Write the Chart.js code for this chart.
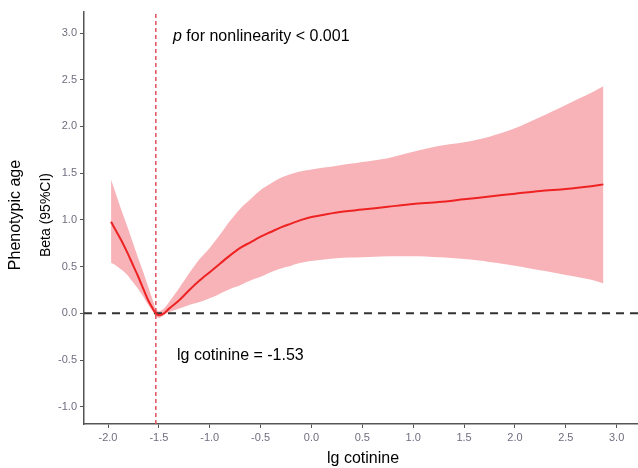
<!DOCTYPE html>
<html>
<head>
<meta charset="utf-8">
<script src="https://cdn.jsdelivr.net/npm/chart.js@4/dist/chart.umd.min.js"></script>
<style>
  html, body { margin: 0; padding: 0; background: #fff; }
  #wrap { width: 638px; height: 468px; }
</style>
</head>
<body>
<div id="wrap"><canvas id="chart" width="638" height="468"></canvas></div>
<script>
// datos
const cotinine = [-1.97, -1.92, -1.86, -1.81, -1.76, -1.71, -1.66, -1.61, -1.56, -1.53, -1.50, -1.45, -1.40, -1.30, -1.20, -1.10, -1.00, -0.90, -0.80, -0.70, -0.60, -0.50, -0.40, -0.30, -0.20, -0.10, 0.00, 0.25, 0.50, 0.75, 1.00, 1.25, 1.50, 1.75, 2.00, 2.25, 2.50, 2.75, 2.87];
const beta = [0.98, 0.88, 0.76, 0.65, 0.53, 0.41, 0.28, 0.15, 0.05, 0.00, -0.02, 0.00, 0.05, 0.14, 0.25, 0.35, 0.44, 0.53, 0.62, 0.70, 0.76, 0.82, 0.87, 0.92, 0.96, 1.00, 1.03, 1.08, 1.11, 1.14, 1.17, 1.19, 1.22, 1.25, 1.28, 1.31, 1.33, 1.36, 1.38];
const ciUpper = [1.43, 1.27, 1.08, 0.93, 0.77, 0.61, 0.46, 0.30, 0.14, 0.05, 0.02, 0.05, 0.12, 0.27, 0.43, 0.58, 0.70, 0.84, 0.99, 1.12, 1.22, 1.32, 1.39, 1.45, 1.49, 1.52, 1.54, 1.58, 1.62, 1.66, 1.73, 1.79, 1.83, 1.89, 1.98, 2.10, 2.23, 2.36, 2.43];
const ciLower = [0.54, 0.51, 0.46, 0.41, 0.34, 0.27, 0.19, 0.10, 0.02, -0.03, -0.05, -0.02, 0.01, 0.05, 0.09, 0.12, 0.16, 0.21, 0.26, 0.30, 0.35, 0.39, 0.44, 0.48, 0.51, 0.54, 0.56, 0.59, 0.60, 0.61, 0.61, 0.60, 0.58, 0.55, 0.51, 0.46, 0.41, 0.36, 0.32];

const xTicks = [-2.0, -1.5, -1.0, -0.5, 0.0, 0.5, 1.0, 1.5, 2.0, 2.5, 3.0];
const yTicks = [-1.0, -0.5, 0.0, 0.5, 1.0, 1.5, 2.0, 2.5, 3.0];
const xRange = [-2.236, 3.21];
const yRange = [-1.185, 3.225];
const cutoff = -1.53;

const toPoints = ys => cotinine.map((x, i) => ({ x: x, y: ys[i] }));

const FONT = '"Liberation Sans", Arial, sans-serif';
const TICK_COLOR = '#6e6e80';
const AXIS_COLOR = '#555555';

// ===========================
// TEXTOS (titulos y anotaciones)
// ===========================
const textPlugin = {
    id: 'textos',
    afterDraw(chart) {
        const c = chart.ctx;
        c.save();
        c.fillStyle = '#000';
        c.textBaseline = 'middle';

        // titulo eje y (dos lineas)
        c.save();
        c.translate(16, 215);
        c.rotate(-Math.PI / 2);
        c.textAlign = 'center';
        c.font = '16px ' + FONT;
        c.fillText('Phenotypic age', 0, 0);
        c.restore();

        c.save();
        c.translate(46, 215);
        c.rotate(-Math.PI / 2);
        c.textAlign = 'center';
        c.font = '14px ' + FONT;
        c.fillText('Beta (95%CI)', 0, 0);
        c.restore();

        // titulo eje x
        c.textAlign = 'center';
        c.font = '16px ' + FONT;
        c.fillText('lg cotinine', 363, 459);

        // anotaciones
        c.textAlign = 'left';
        const tx = 173;
        c.font = 'italic 16px ' + FONT;
        c.fillText('p', tx, 37);
        const pw = c.measureText('p').width;
        c.font = '16px ' + FONT;
        c.fillText(' for nonlinearity < 0.001', tx + pw, 37);
        c.fillText('lg cotinine = -1.53', 177, 356);
        c.restore();
    }
};

new Chart(document.getElementById('chart'), {
    type: 'scatter',
    data: {
        datasets: [
            {
                data: toPoints(ciUpper),
                showLine: true,
                borderWidth: 0,
                pointRadius: 0,
                fill: '+1',
                backgroundColor: 'rgba(245, 160, 166, 0.8)',
                borderColor: 'rgba(0,0,0,0)',
                tension: 0.3,
                order: 3
            },
            {
                data: toPoints(ciLower),
                showLine: true,
                borderWidth: 0,
                pointRadius: 0,
                fill: false,
                borderColor: 'rgba(0,0,0,0)',
                tension: 0.3,
                order: 3
            },
            {
                data: [{ x: xRange[0], y: 0 }, { x: xRange[1], y: 0 }],
                showLine: true,
                borderColor: '#333333',
                borderWidth: 2,
                borderDash: [8, 6],
                pointRadius: 0,
                order: 2
            },
            {
                data: [{ x: cutoff, y: yRange[0] }, { x: cutoff, y: yRange[1] }],
                showLine: true,
                borderColor: '#e0505e',
                borderWidth: 1.5,
                borderDash: [4, 3],
                pointRadius: 0,
                order: 1
            },
            {
                data: toPoints(beta),
                showLine: true,
                borderColor: '#ee2222',
                borderWidth: 2,
                pointRadius: 0,
                tension: 0.3,
                order: 0
            }
        ]
    },
    options: {
        responsive: false,
        animation: false,
        layout: { padding: { top: 12, right: 0, bottom: 0, left: 0 } },
        plugins: {
            legend: { display: false },
            tooltip: { enabled: false }
        },
        scales: {
            x: {
                type: 'linear',
                min: xRange[0],
                max: xRange[1],
                afterBuildTicks: s => { s.ticks = xTicks.map(v => ({ value: v })); },
                afterFit: s => { s.height = 44; },
                ticks: {
                    color: TICK_COLOR,
                    font: { family: FONT, size: 11 },
                    padding: 3,
                    maxRotation: 0,
                    autoSkip: false,
                    callback: v => v.toFixed(1)
                },
                grid: {
                    drawOnChartArea: false,
                    drawTicks: true,
                    tickLength: 4,
                    color: AXIS_COLOR
                },
                border: { display: true, color: AXIS_COLOR, width: 1.5 }
            },
            y: {
                type: 'linear',
                min: yRange[0],
                max: yRange[1],
                afterBuildTicks: s => { s.ticks = yTicks.map(v => ({ value: v })); },
                afterFit: s => { s.width = 84; },
                ticks: {
                    color: TICK_COLOR,
                    font: { family: FONT, size: 11 },
                    padding: 3,
                    autoSkip: false,
                    callback: v => v.toFixed(1)
                },
                grid: {
                    drawOnChartArea: false,
                    drawTicks: true,
                    tickLength: 4,
                    color: AXIS_COLOR
                },
                border: { display: true, color: AXIS_COLOR, width: 1.5 }
            }
        }
    },
    plugins: [textPlugin]
});
</script>
</body>
</html>
